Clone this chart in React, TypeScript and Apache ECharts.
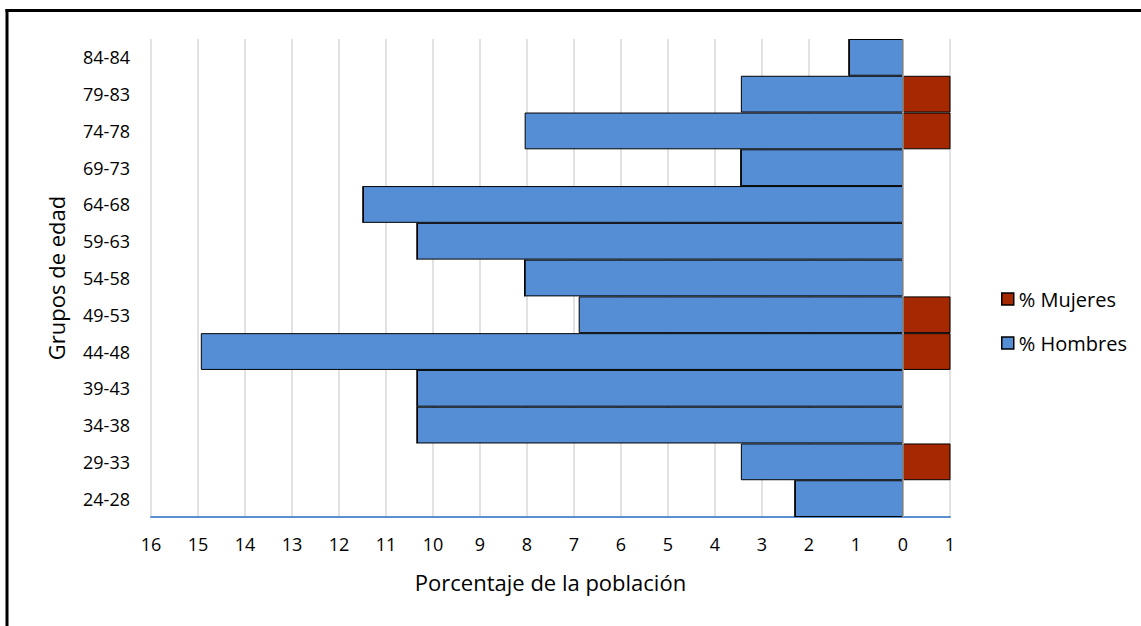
import React, { useEffect, useRef } from "react";
import * as echarts from "echarts";

const ageGroups = [
  "24-28", "29-33", "34-38", "39-43", "44-48", "49-53", "54-58",
  "59-63", "64-68", "69-73", "74-78", "79-83", "84-84",
];
const hombres = [2.3, 3.45, 10.34, 10.34, 14.94, 6.9, 8.05, 10.34, 11.49, 3.45, 8.05, 3.45, 1.15];
const mujeres = [0, 1.15, 0, 0, 1.15, 1.15, 0, 0, 0, 0, 1.15, 1.15, 0];
const xMin = -16;
const xMax = 1;

const FONT = "'Open Sans', 'Noto Sans', sans-serif";

export default function App() {
  const ref = useRef<HTMLDivElement>(null);
  useEffect(() => {
    if (!ref.current) return;
    const chart = echarts.init(ref.current, undefined, { renderer: "svg" });
    chart.setOption({
      animation: false,
      backgroundColor: "#fff",
      textStyle: { fontFamily: FONT },
      graphic: [
        {
          type: "line",
          shape: { x1: 7, y1: 9, x2: 7, y2: 640 },
          style: { stroke: "#000", lineWidth: 3 },
          silent: true,
          z: 100,
        },
        {
          type: "line",
          shape: { x1: 5.5, y1: 10.5, x2: 1160, y2: 10.5 },
          style: { stroke: "#000", lineWidth: 3 },
          silent: true,
          z: 100,
        },
      ],
      grid: { left: 151, right: 191, top: 39, bottom: 109, containLabel: false },
      legend: {
        data: ["% Mujeres", "% Hombres"],
        orient: "vertical",
        left: 996,
        top: 284,
        itemWidth: 12,
        itemHeight: 12,
        itemGap: 24,
        icon: "rect",
        textStyle: { fontSize: 20, color: "#000", fontFamily: FONT },
        itemStyle: { borderColor: "#000", borderWidth: 1.5 },
      },
      xAxis: {
        type: "value",
        min: xMin,
        max: xMax,
        interval: 1,
        name: "Porcentaje de la población",
        nameLocation: "middle",
        nameGap: 54,
        nameTextStyle: { fontSize: 22, color: "#000", fontFamily: FONT },
        axisLine: { show: true, lineStyle: { color: "#5b8fd0", width: 2 } },
        axisTick: { show: false },
        axisLabel: {
          fontSize: 18,
          color: "#000",
          margin: 18,
          formatter: (v: number) => String(Math.abs(v)),
        },
        splitLine: { show: true, lineStyle: { color: "#d9d9d9", width: 1.5 } },
      },
      yAxis: {
        type: "category",
        data: ageGroups,
        name: "Grupos de edad",
        nameLocation: "middle",
        nameRotate: 90,
        nameGap: 84,
        nameTextStyle: { fontSize: 22, color: "#000", fontFamily: FONT },
        axisLine: { show: false },
        axisTick: { show: false },
        axisLabel: { fontSize: 18, color: "#000", margin: 21 },
        splitLine: { show: false },
      },
      series: [
        {
          name: "% Hombres",
          type: "bar",
          stack: "total",
          barCategoryGap: "0%",
          data: hombres.map((v) => -v),
          itemStyle: { color: "#558ed5", borderColor: "#000", borderWidth: 1 },
        },
        {
          name: "% Mujeres",
          type: "bar",
          stack: "total",
          barCategoryGap: "0%",
          clip: true,
          data: mujeres,
          itemStyle: { color: "#a62800", borderColor: "#000", borderWidth: 1 },
          markLine: {
            silent: true,
            symbol: "none",
            label: { show: false },
            lineStyle: { color: "#a6a6a6", width: 1.5, type: "solid" },
            data: [{ xAxis: 0 }],
          },
        },
      ],
    });
    return () => chart.dispose();
  }, []);
  return (
    <div
      ref={ref}
      style={{ position: "fixed", left: 0, top: 0, width: 1141, height: 626 }}
    />
  );
}
